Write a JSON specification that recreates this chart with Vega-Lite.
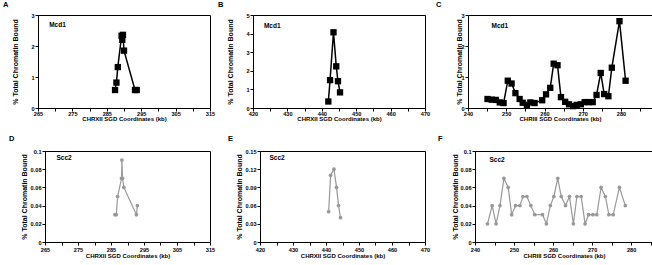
{
  "$schema": "https://vega.github.io/schema/vega-lite/v6.json",
  "background": "white",
  "padding": {"left": 2, "top": 0, "right": 0, "bottom": 0},
  "config": {
    "font": "Liberation Sans",
    "view": {"stroke": "#000000", "strokeWidth": 1},
    "axis": {"grid": false, "domainColor": "#000000", "domainWidth": 1, "tickColor": "#000000", "tickSize": 3, "tickWidth": 1,
      "labelFont": "Liberation Sans", "labelFontSize": 5.6, "labelFontWeight": "bold", "labelColor": "#000000", "labelPadding": 1,
      "labelFlush": false, "labelOverlap": false,
      "titleFont": "Liberation Sans", "titleFontWeight": "bold", "titleColor": "#000000"},
    "axisX": {"titleFontSize": 6},
    "axisY": {"titleFontSize": 7, "titleBaseline": "alphabetic"},
    "title": {"font": "Liberation Sans", "fontSize": 7.5, "fontWeight": "bold", "anchor": "start", "frame": "group", "color": "#000000", "baseline": "alphabetic"},
    "legend": {"title": null, "padding": 0, "symbolSize": 0, "symbolStrokeWidth": 0, "symbolOpacity": 0, "labelOffset": 0,
      "labelFont": "Liberation Sans", "labelFontSize": 6.5, "labelFontWeight": "bold", "labelColor": "#000000", "orient": "none"}
  },
  "datasets": {
    "a": [
      {"kb": 287.4, "bound": 0.58, "protein": "Mcd1"},
      {"kb": 287.8, "bound": 0.82, "protein": "Mcd1"},
      {"kb": 288.2, "bound": 1.32, "protein": "Mcd1"},
      {"kb": 289.3, "bound": 2.33, "protein": "Mcd1"},
      {"kb": 289.5, "bound": 2.2, "protein": "Mcd1"},
      {"kb": 289.7, "bound": 2.36, "protein": "Mcd1"},
      {"kb": 290.0, "bound": 1.85, "protein": "Mcd1"},
      {"kb": 293.2, "bound": 0.58, "protein": "Mcd1"},
      {"kb": 293.7, "bound": 0.58, "protein": "Mcd1"}
    ],
    "b": [
      {"kb": 441.9, "bound": 0.35, "protein": "Mcd1"},
      {"kb": 442.4, "bound": 1.5, "protein": "Mcd1"},
      {"kb": 443.4, "bound": 4.07, "protein": "Mcd1"},
      {"kb": 444.2, "bound": 2.24, "protein": "Mcd1"},
      {"kb": 444.7, "bound": 1.44, "protein": "Mcd1"},
      {"kb": 445.3, "bound": 0.84, "protein": "Mcd1"}
    ],
    "c": [
      {"kb": 245.1, "bound": 0.29, "protein": "Mcd1"},
      {"kb": 246.2, "bound": 0.27, "protein": "Mcd1"},
      {"kb": 247.3, "bound": 0.26, "protein": "Mcd1"},
      {"kb": 248.3, "bound": 0.18, "protein": "Mcd1"},
      {"kb": 249.3, "bound": 0.16, "protein": "Mcd1"},
      {"kb": 250.4, "bound": 0.88, "protein": "Mcd1"},
      {"kb": 251.4, "bound": 0.79, "protein": "Mcd1"},
      {"kb": 252.4, "bound": 0.48, "protein": "Mcd1"},
      {"kb": 253.5, "bound": 0.29, "protein": "Mcd1"},
      {"kb": 254.3, "bound": 0.17, "protein": "Mcd1"},
      {"kb": 255.4, "bound": 0.1, "protein": "Mcd1"},
      {"kb": 256.3, "bound": 0.18, "protein": "Mcd1"},
      {"kb": 257.4, "bound": 0.16, "protein": "Mcd1"},
      {"kb": 259.4, "bound": 0.25, "protein": "Mcd1"},
      {"kb": 260.4, "bound": 0.44, "protein": "Mcd1"},
      {"kb": 261.5, "bound": 0.65, "protein": "Mcd1"},
      {"kb": 262.4, "bound": 1.43, "protein": "Mcd1"},
      {"kb": 263.4, "bound": 1.38, "protein": "Mcd1"},
      {"kb": 264.3, "bound": 0.35, "protein": "Mcd1"},
      {"kb": 265.4, "bound": 0.2, "protein": "Mcd1"},
      {"kb": 266.4, "bound": 0.12, "protein": "Mcd1"},
      {"kb": 267.5, "bound": 0.06, "protein": "Mcd1"},
      {"kb": 268.4, "bound": 0.1, "protein": "Mcd1"},
      {"kb": 269.5, "bound": 0.12, "protein": "Mcd1"},
      {"kb": 270.5, "bound": 0.19, "protein": "Mcd1"},
      {"kb": 271.5, "bound": 0.19, "protein": "Mcd1"},
      {"kb": 272.6, "bound": 0.19, "protein": "Mcd1"},
      {"kb": 273.6, "bound": 0.42, "protein": "Mcd1"},
      {"kb": 274.7, "bound": 1.13, "protein": "Mcd1"},
      {"kb": 275.6, "bound": 0.45, "protein": "Mcd1"},
      {"kb": 276.7, "bound": 0.38, "protein": "Mcd1"},
      {"kb": 277.6, "bound": 1.3, "protein": "Mcd1"},
      {"kb": 279.6, "bound": 2.8, "protein": "Mcd1"},
      {"kb": 281.2, "bound": 0.88, "protein": "Mcd1"}
    ],
    "d": [
      {"kb": 286.2, "bound": 0.03, "protein": "Scc2"},
      {"kb": 286.6, "bound": 0.03, "protein": "Scc2"},
      {"kb": 287.0, "bound": 0.05, "protein": "Scc2"},
      {"kb": 288.2, "bound": 0.07, "protein": "Scc2"},
      {"kb": 288.3, "bound": 0.09, "protein": "Scc2"},
      {"kb": 288.5, "bound": 0.07, "protein": "Scc2"},
      {"kb": 288.9, "bound": 0.06, "protein": "Scc2"},
      {"kb": 292.7, "bound": 0.03, "protein": "Scc2"},
      {"kb": 293.0, "bound": 0.04, "protein": "Scc2"}
    ],
    "e": [
      {"kb": 440.8, "bound": 0.05, "protein": "Scc2"},
      {"kb": 441.4, "bound": 0.11, "protein": "Scc2"},
      {"kb": 442.4, "bound": 0.12, "protein": "Scc2"},
      {"kb": 443.2, "bound": 0.09, "protein": "Scc2"},
      {"kb": 443.8, "bound": 0.06, "protein": "Scc2"},
      {"kb": 444.4, "bound": 0.04, "protein": "Scc2"}
    ],
    "f": [
      {"kb": 243.2, "bound": 0.02, "protein": "Scc2"},
      {"kb": 244.4, "bound": 0.04, "protein": "Scc2"},
      {"kb": 245.4, "bound": 0.02, "protein": "Scc2"},
      {"kb": 246.4, "bound": 0.04, "protein": "Scc2"},
      {"kb": 247.4, "bound": 0.07, "protein": "Scc2"},
      {"kb": 248.5, "bound": 0.06, "protein": "Scc2"},
      {"kb": 249.4, "bound": 0.03, "protein": "Scc2"},
      {"kb": 250.4, "bound": 0.04, "protein": "Scc2"},
      {"kb": 251.5, "bound": 0.04, "protein": "Scc2"},
      {"kb": 252.3, "bound": 0.05, "protein": "Scc2"},
      {"kb": 253.3, "bound": 0.05, "protein": "Scc2"},
      {"kb": 254.3, "bound": 0.04, "protein": "Scc2"},
      {"kb": 255.3, "bound": 0.03, "protein": "Scc2"},
      {"kb": 257.3, "bound": 0.03, "protein": "Scc2"},
      {"kb": 258.3, "bound": 0.02, "protein": "Scc2"},
      {"kb": 259.3, "bound": 0.04, "protein": "Scc2"},
      {"kb": 260.2, "bound": 0.05, "protein": "Scc2"},
      {"kb": 261.2, "bound": 0.07, "protein": "Scc2"},
      {"kb": 262.1, "bound": 0.05, "protein": "Scc2"},
      {"kb": 263.2, "bound": 0.04, "protein": "Scc2"},
      {"kb": 264.2, "bound": 0.05, "protein": "Scc2"},
      {"kb": 265.2, "bound": 0.02, "protein": "Scc2"},
      {"kb": 266.1, "bound": 0.05, "protein": "Scc2"},
      {"kb": 267.2, "bound": 0.05, "protein": "Scc2"},
      {"kb": 268.2, "bound": 0.02, "protein": "Scc2"},
      {"kb": 269.1, "bound": 0.03, "protein": "Scc2"},
      {"kb": 270.2, "bound": 0.03, "protein": "Scc2"},
      {"kb": 271.2, "bound": 0.03, "protein": "Scc2"},
      {"kb": 272.3, "bound": 0.06, "protein": "Scc2"},
      {"kb": 273.4, "bound": 0.05, "protein": "Scc2"},
      {"kb": 274.3, "bound": 0.03, "protein": "Scc2"},
      {"kb": 275.4, "bound": 0.03, "protein": "Scc2"},
      {"kb": 277.0, "bound": 0.06, "protein": "Scc2"},
      {"kb": 278.5, "bound": 0.04, "protein": "Scc2"}
    ]
  },
  "columns": 1,
  "align": "none",
  "spacing": 11,
  "resolve": {"scale": {"x": "independent", "y": "independent", "color": "independent"}, "axis": {"x": "independent", "y": "independent"}, "legend": {"color": "independent"}},
  "concat": [
    {
      "hconcat": [
        {"width": 1, "height": 1, "data": {"values": []}, "mark": "point", "encoding": {}, "view": {"stroke": null}},
        {
          "hconcat": [
            {
              "title": {"text": "A", "dx": -35, "offset": 5},
              "width": 172, "height": 93,
              "data": {"name": "a"},
              "encoding": {
                "x": {"field": "kb", "type": "quantitative", "scale": {"domain": [265, 315], "nice": false, "zero": false},
                  "axis": {"title": "CHRXII SGD Coordinates (kb)", "labelPadding": 0, "titlePadding": -1, "values": [265, 270, 275, 280, 285, 290, 295, 300, 305, 310, 315], "labelExpr": "datum.value % 10 == 5 ? datum.label : ''"}},
                "y": {"field": "bound", "type": "quantitative", "scale": {"domain": [0, 3], "nice": false},
                  "axis": {"title": "% Total Chromatin Bound", "values": [0, 1, 2, 3], "format": "~g", "titleX": -20.3}},
                "color": {"field": "protein", "type": "nominal", "scale": {"range": ["#000000"]}, "legend": {"legendX": 4.7, "legendY": 6.5}}
              },
              "layer": [
                {"mark": {"type": "line", "strokeWidth": 1.5}},
                {"mark": {"type": "point", "shape": "square", "filled": true, "size": 40, "opacity": 1}}
              ]
            },
            {
              "title": {"text": "B", "dx": -35, "offset": 5},
              "width": 172, "height": 93,
              "data": {"name": "b"},
              "encoding": {
                "x": {"field": "kb", "type": "quantitative", "scale": {"domain": [420, 470], "nice": false, "zero": false},
                  "axis": {"title": "CHRXII SGD Coordinates (kb)", "labelPadding": 0, "titlePadding": -1, "values": [420, 425, 430, 435, 440, 445, 450, 455, 460, 465, 470], "labelExpr": "datum.value % 10 == 0 ? datum.label : ''"}},
                "y": {"field": "bound", "type": "quantitative", "scale": {"domain": [0, 5], "nice": false},
                  "axis": {"title": "% Total Chromatin Bound", "values": [0, 1, 2, 3, 4, 5], "format": "~g", "titleX": -20.3}},
                "color": {"field": "protein", "type": "nominal", "scale": {"range": ["#000000"]}, "legend": {"legendX": 4.4, "legendY": 7.8}}
              },
              "layer": [
                {"mark": {"type": "line", "strokeWidth": 1.5}},
                {"mark": {"type": "point", "shape": "square", "filled": true, "size": 40, "opacity": 1}}
              ]
            },
            {
              "title": {"text": "C", "dx": -32, "offset": 5},
              "width": 184, "height": 93,
              "data": {"name": "c"},
              "encoding": {
                "x": {"field": "kb", "type": "quantitative", "scale": {"domain": [240, 288.1], "nice": false, "zero": false},
                  "axis": {"title": "CHRIII SGD Coordinates (kb)", "labelPadding": 0, "titlePadding": -1, "values": [240, 245, 250, 255, 260, 265, 270, 275, 280, 285], "labelExpr": "datum.value % 10 == 0 ? datum.label : ''"}},
                "y": {"field": "bound", "type": "quantitative", "scale": {"domain": [0, 3], "nice": false},
                  "axis": {"title": "% Total Chromatin Bound", "values": [0, 1, 2, 3], "format": "~g", "titleX": -6.3}},
                "color": {"field": "protein", "type": "nominal", "scale": {"range": ["#000000"]}, "legend": {"legendX": 17, "legendY": 7.8}}
              },
              "layer": [
                {"mark": {"type": "line", "strokeWidth": 1.5}},
                {"mark": {"type": "point", "shape": "square", "filled": true, "size": 40, "opacity": 1}}
              ]
            }
          ],
          "spacing": 43,
          "bounds": "flush",
          "resolve": {"scale": {"x": "independent", "y": "independent", "color": "independent"}, "axis": {"x": "independent", "y": "independent"}, "legend": {"color": "independent"}}
        }
      ],
      "spacing": 34,
      "bounds": "flush",
      "resolve": {"scale": {"x": "independent", "y": "independent", "color": "independent"}, "axis": {"x": "independent", "y": "independent"}, "legend": {"color": "independent"}}
    },
    {
      "hconcat": [
        {"width": 1, "height": 1, "data": {"values": []}, "mark": "point", "encoding": {}, "view": {"stroke": null}},
        {
          "hconcat": [
            {
              "title": {"text": "D", "dx": -36, "offset": 7},
              "width": 165, "height": 91,
              "data": {"name": "d"},
              "encoding": {
                "x": {"field": "kb", "type": "quantitative", "scale": {"domain": [265, 315], "nice": false, "zero": false},
                  "axis": {"title": "CHRXII SGD Coordinates (kb)", "labelPadding": 2, "titlePadding": 0, "values": [265, 270, 275, 280, 285, 290, 295, 300, 305, 310, 315], "labelExpr": "datum.value % 10 == 5 ? datum.label : ''"}},
                "y": {"field": "bound", "type": "quantitative", "scale": {"domain": [0, 0.1], "nice": false},
                  "axis": {"title": "% Total Chromatin Bound", "values": [0, 0.02, 0.04, 0.06, 0.08, 0.1], "format": "~g", "titleX": -18.3}},
                "color": {"field": "protein", "type": "nominal", "scale": {"range": ["#999999"]}, "legend": {"legendX": 5, "legendY": 3.8}}
              },
              "layer": [
                {"mark": {"type": "line", "strokeWidth": 1.2}},
                {"mark": {"type": "point", "shape": "circle", "filled": true, "size": 14, "opacity": 1}}
              ]
            },
            {
              "title": {"text": "E", "dx": -32, "offset": 7},
              "width": 165, "height": 91,
              "data": {"name": "e"},
              "encoding": {
                "x": {"field": "kb", "type": "quantitative", "scale": {"domain": [420, 470], "nice": false, "zero": false},
                  "axis": {"title": "CHRXII SGD Coordinates (kb)", "labelPadding": 2, "titlePadding": 0, "values": [420, 425, 430, 435, 440, 445, 450, 455, 460, 465, 470], "labelExpr": "datum.value % 10 == 0 ? datum.label : ''"}},
                "y": {"field": "bound", "type": "quantitative", "scale": {"domain": [0, 0.15], "nice": false},
                  "axis": {"title": "% Total Chromatin Bound", "values": [0, 0.03, 0.06, 0.09, 0.12, 0.15], "format": "~g", "titleX": -18.8}},
                "color": {"field": "protein", "type": "nominal", "scale": {"range": ["#999999"]}, "legend": {"legendX": 3, "legendY": 3.8}}
              },
              "layer": [
                {"mark": {"type": "line", "strokeWidth": 1.2}},
                {"mark": {"type": "point", "shape": "circle", "filled": true, "size": 14, "opacity": 1}}
              ]
            },
            {
              "title": {"text": "F", "dx": -37, "offset": 7},
              "width": 178, "height": 91,
              "data": {"name": "f"},
              "encoding": {
                "x": {"field": "kb", "type": "quantitative", "scale": {"domain": [240, 285.6], "nice": false, "zero": false},
                  "axis": {"title": "CHRIII SGD Coordinates (kb)", "labelPadding": 2, "titlePadding": 0, "values": [240, 245, 250, 255, 260, 265, 270, 275, 280, 285], "labelExpr": "datum.value % 10 == 0 ? datum.label : ''"}},
                "y": {"field": "bound", "type": "quantitative", "scale": {"domain": [0, 0.1], "nice": false},
                  "axis": {"title": "% Total Chromatin Bound", "values": [0, 0.02, 0.04, 0.06, 0.08, 0.1], "format": "~g", "titleX": -18}},
                "color": {"field": "protein", "type": "nominal", "scale": {"range": ["#999999"]}, "legend": {"legendX": 8, "legendY": 5.8}}
              },
              "layer": [
                {"mark": {"type": "line", "strokeWidth": 1.2}},
                {"mark": {"type": "point", "shape": "circle", "filled": true, "size": 14, "opacity": 1}}
              ]
            }
          ],
          "spacing": 50,
          "bounds": "flush",
          "resolve": {"scale": {"x": "independent", "y": "independent", "color": "independent"}, "axis": {"x": "independent", "y": "independent"}, "legend": {"color": "independent"}}
        }
      ],
      "spacing": 41,
      "bounds": "flush",
      "resolve": {"scale": {"x": "independent", "y": "independent", "color": "independent"}, "axis": {"x": "independent", "y": "independent"}, "legend": {"color": "independent"}}
    }
  ]
}
